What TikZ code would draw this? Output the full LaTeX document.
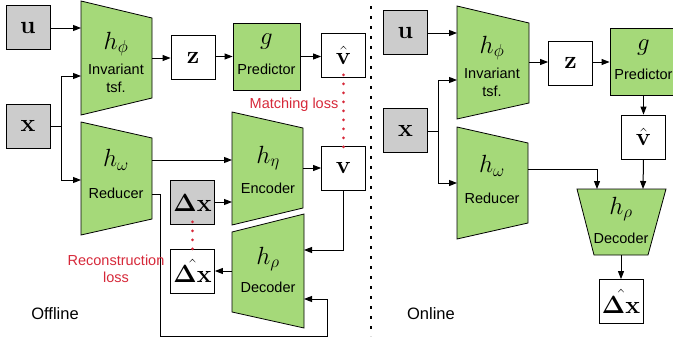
\documentclass[tikz,border=0pt]{standalone}
\usepackage[no-math]{fontspec}
\usepackage{amsmath}
\usetikzlibrary{arrows.meta}
\newfontfamily\lsans{Liberation Sans}
\definecolor{blockgreen}{RGB}{165,217,121}
\definecolor{inputgray}{RGB}{204,204,204}
\definecolor{lossred}{RGB}{214,40,57}
\newcommand{\mathtxt}[1]{\fontsize{27}{29}\selectfont$#1$}
\newcommand{\boldtxt}[1]{\fontsize{29}{31}\selectfont$#1$}
\begin{document}
\begin{tikzpicture}[x=1pt,y=-1pt,
  box/.style={draw=black,line width=0.8pt,minimum width=44pt,minimum height=44pt,inner sep=0pt},
  inbox/.style={box,fill=inputgray},
  outbox/.style={box,fill=white},
  gbox/.style={box,fill=blockgreen,minimum width=67pt,minimum height=67pt},
  trap/.style={fill=blockgreen,draw=black,line width=0.8pt,line join=miter},
  txt/.style={inner sep=0pt},
  lbl/.style={inner sep=0pt,font=\lsans\fontsize{14.5}{16.5}\selectfont},
  title/.style={inner sep=0pt,font=\lsans\fontsize{16.5}{18}\selectfont},
  conn/.style={line width=1pt,-{Triangle[length=8pt,width=6pt]}},
  plain/.style={line width=1pt},
  lossdots/.style={lossred,line width=3pt,line cap=round,dash pattern=on 0pt off 9pt},
  sep/.style={line width=1.8pt,dash pattern=on 2.6pt off 7.4pt}
]
\useasboundingbox (0,0) rectangle (673,343);

% ---------------- Offline ----------------
% trapezoid blocks
\draw[trap] (81,1) -- (152,18) -- (152,98) -- (81,115) -- cycle;
\draw[trap] (81,122) -- (152,138) -- (152,219) -- (81,235) -- cycle;
\draw[trap] (232,112) -- (303,128) -- (303,208) -- (232,225) -- cycle;
\draw[trap] (232,232) -- (304,214) -- (304,328) -- (232,312) -- cycle;

\node[txt] (phiA) at (116,44) {\mathtxt{h_\phi}};
\node[lbl] (phiAt) at (116,69) {Invariant};
\node[lbl] (phiAs) at (116,87) {tsf.};
\node[txt] (omA) at (116,160) {\mathtxt{h_\omega}};
\node[lbl] (omAt) at (116,193) {Reducer};
\node[txt] (etaA) at (268,158) {\mathtxt{h_\eta}};
\node[lbl] (etaAt) at (268,188) {Encoder};
\node[txt] (rhoA) at (268,259) {\mathtxt{h_\rho}};
\node[lbl] (rhoAt) at (268,287) {Decoder};

% ports on the trapezoid sides
\coordinate (phiAinU) at (81,28);
\coordinate (phiAinX) at (81,76);
\coordinate (phiAout) at (152,58);
\coordinate (omAin) at (81,180);
\coordinate (omAout) at (152,160);
\coordinate (omAout2) at (152,194);
\coordinate (etaAin) at (232,160);
\coordinate (etaAin2) at (232,202);
\coordinate (etaAout) at (303,168);
\coordinate (rhoAinV) at (304,250);
\coordinate (rhoAinW) at (304,299);
\coordinate (rhoAout) at (232,271);

% square blocks
\node[inbox] (uA) at (28,27.5) {\boldtxt{\mathbf{u}}};
\node[inbox] (xA) at (28,126) {\boldtxt{\mathbf{x}}};
\node[outbox] (zA) at (193,57.5) {\boldtxt{\mathbf{z}}};
\node[gbox] (gA) at (266.5,56.5) {};
\node[txt] (gAm) at (266.5,42) {\mathtxt{g}};
\node[lbl] (gAt) at (266.5,69) {Predictor};
\node[outbox] (vhA) at (343.5,55.5) {\boldtxt{\hat{\mathbf{v}}}};
\node[outbox] (vA) at (343.5,168) {\boldtxt{\mathbf{v}}};
\node[inbox] (dxA) at (192.5,202.5) {\boldtxt{\mathbf{\Delta x}}};
\node[outbox] (dxhA) at (192.5,271) {\boldtxt{\hat{\mathbf{\Delta x}}}};

% connectors
\draw[conn] (uA.east |- phiAinU) -- (phiAinU);
\coordinate (xAsplit) at (61,126);
\draw[plain] (xA.east |- xAsplit) -- (xAsplit);
\draw[conn] (xAsplit) |- (phiAinX);
\draw[conn] (xAsplit) |- (omAin);
\draw[conn] (phiAout) -- (zA.west |- phiAout);
\draw[conn] (zA.east |- gA.west) -- (gA.west);
\draw[conn] (gA.east) -- (vhA.west |- gA.east);
\draw[conn] (omAout) -- (etaAin);
\draw[conn] (dxA.east |- etaAin2) -- (etaAin2);
\draw[conn] (etaAout) -- (vA.west |- etaAout);
\draw[conn] (vA.south) |- (rhoAinV);
\draw[conn] (rhoAout) -- (dxhA.east |- rhoAout);
\coordinate (omAturn) at (160,336);
\coordinate (rhoAturn) at (327,336);
\draw[conn] (omAout2) -| (omAturn) -- (rhoAturn) |- (rhoAinW);

% loss terms
\draw[lossdots] ([yshift=3pt]vhA.south) -- ([yshift=-2pt]vA.north);
\draw[lossdots] ([yshift=3pt]dxA.south) -- ([yshift=-2pt]dxhA.north);
\node[lbl,text=lossred] (matchA) at (294,105) {Matching loss};
\node[lbl,text=lossred,align=center] (recA) at (116,269) {Reconstruction\\loss};
\node[title] (offA) at (55,314) {Offline};

% divider
\coordinate (sepTop) at (371,6);
\coordinate (sepBot) at (371,336);
\draw[sep] (sepTop) -- (sepBot);

% ---------------- Online ----------------
\draw[trap] (457,6) -- (529,23) -- (529,103) -- (457,119) -- cycle;
\draw[trap] (457,127) -- (528,143) -- (528,223) -- (457,239) -- cycle;
\draw[trap] (577,189) -- (666,189) -- (648,255) -- (594,255) -- cycle;

\node[txt] (phiB) at (492,48) {\mathtxt{h_\phi}};
\node[lbl] (phiBt) at (492,73) {Invariant};
\node[lbl] (phiBs) at (492,91) {tsf.};
\node[txt] (omB) at (492,166) {\mathtxt{h_\omega}};
\node[lbl] (omBt) at (492,198) {Reducer};
\node[txt] (rhoB) at (621,209) {\mathtxt{h_\rho}};
\node[lbl] (rhoBt) at (621,238) {Decoder};

\coordinate (phiBinU) at (457,33);
\coordinate (phiBinX) at (457,80);
\coordinate (phiBout) at (529,62);
\coordinate (omBin) at (457,183);
\coordinate (omBout) at (528,169);
\coordinate (rhoBinW) at (597,189);
\coordinate (rhoBinV) at (643,189);
\coordinate (rhoBout) at (621,255);

\node[inbox] (uB) at (405.5,32.5) {\boldtxt{\mathbf{u}}};
\node[inbox] (xB) at (405.5,130.5) {\boldtxt{\mathbf{x}}};
\node[outbox] (zB) at (570.5,63) {\boldtxt{\mathbf{z}}};
\node[gbox] (gB) at (643.5,61.5) {};
\node[txt] (gBm) at (643.5,48) {\mathtxt{g}};
\node[lbl] (gBt) at (643.5,74) {Predictor};
\node[outbox] (vhB) at (643.5,137) {\boldtxt{\hat{\mathbf{v}}}};
\node[outbox] (dxhB) at (621,301.5) {\boldtxt{\hat{\mathbf{\Delta x}}}};

\draw[conn] (uB.east |- phiBinU) -- (phiBinU);
\coordinate (xBsplit) at (438,131);
\draw[plain] (xB.east |- xBsplit) -- (xBsplit);
\draw[conn] (xBsplit) |- (phiBinX);
\draw[conn] (xBsplit) |- (omBin);
\draw[conn] (phiBout) -- (zB.west |- phiBout);
\draw[conn] (zB.east |- phiBout) -- (gB.west |- phiBout);
\draw[conn] (gB.south -| vhB.north) -- (vhB.north);
\draw[conn] (vhB.south) -- (rhoBinV);
\draw[conn] (omBout) -| (rhoBinW);
\draw[conn] (rhoBout) -- (dxhB.north);
\node[title] (onB) at (431,314) {Online};
\end{tikzpicture}
\end{document}
